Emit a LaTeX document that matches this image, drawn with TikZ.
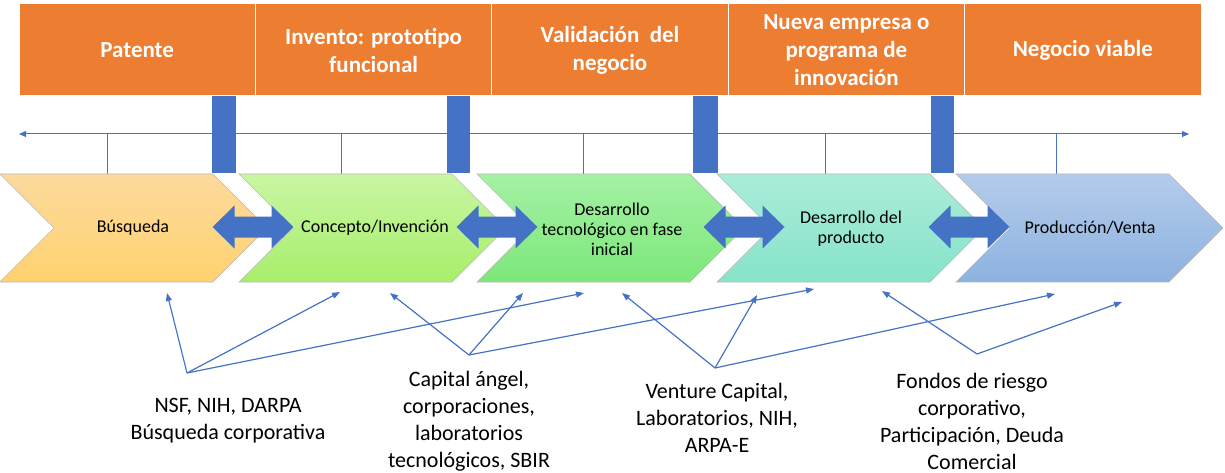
\documentclass[tikz,border=0pt]{standalone}
\usepackage{fontspec}
\setmainfont{Carlito}
\usetikzlibrary{arrows.meta}

\definecolor{HdrOrange}{HTML}{ED7D31}
\definecolor{MileBlue}{HTML}{4472C4}
\definecolor{ChOneTop}{HTML}{FDDA9D}
\definecolor{ChOneBot}{HTML}{FFD26F}
\definecolor{ChTwoTop}{HTML}{C8F6A3}
\definecolor{ChTwoBot}{HTML}{A8EE6B}
\definecolor{ChThreeTop}{HTML}{A4F1A4}
\definecolor{ChThreeBot}{HTML}{7CE77A}
\definecolor{ChFourTop}{HTML}{AAECDA}
\definecolor{ChFourBot}{HTML}{86E3C9}
\definecolor{ChFiveTop}{HTML}{B4CCEB}
\definecolor{ChFiveBot}{HTML}{8DB2DF}

\tikzset{
    header/.style={fill=HdrOrange,draw=white,line width=1pt,minimum width=236.4pt,
        minimum height=92pt,inner sep=0pt,text=white,align=center,
        font=\fontsize{23}{28}\selectfont\bfseries},
    stage/.style={align=center,inner sep=0pt,font=\fontsize{18}{20}\selectfont},
    source/.style={align=center,inner sep=0pt,font=\fontsize{22}{27}\selectfont},
    fund/.style={draw=MileBlue,line width=1.2pt,-{Triangle[length=8pt,width=6pt]}},
}

\begin{document}
\begin{tikzpicture}[x=1pt,y=-1pt]
        \useasboundingbox (0,0) rectangle (1225,473);

        % Header row
        \foreach \Name/\Text [count=\i] in {pat/Patente,
            inv/{Invento: prototipo\\funcional},
            val/{Validación~ del\\negocio},
            emp/{Nueva empresa o\\programa de\\innovación},
            neg/Negocio viable}{
            \node[header] (\Name) at ({19+236.4*(\i-0.5)},50) {\Text};
        }

        % Timeline with ticks
        \draw[MileBlue,line width=1pt,{Triangle[length=7pt,width=6pt]}-{Triangle[length=7pt,width=6pt]}]
            (19,134) -- (1189,134);
        \foreach \x in {107,341,583,825,1056}{
            \draw[MileBlue,line width=0.8pt] (\x,134) -- (\x,174);
        }

        % Milestones
        \foreach \x/\w in {212/24,447/23,693/25,931/23}{
            \fill[MileBlue] (\x,96) rectangle ++(\w,77);
        }

        % Stages
        \foreach \L/\Top/\Bot in {0/ChOneTop/ChOneBot,239/ChTwoTop/ChTwoBot,
            477/ChThreeTop/ChThreeBot,717/ChFourTop/ChFourBot,956/ChFiveTop/ChFiveBot}{
            \shade[top color=\Top,bottom color=\Bot,draw=gray!55,line width=0.6pt]
                (\L,174) -- ++(213,0) -- ++(54,54) -- ++(-54,54) -- ++(-213,0) -- ++(54,-54) -- cycle;
        }

        \node[stage] (busq) at (133,228) {Búsqueda};
        \node[stage] (conc) at (375,228) {Concepto/Invención};
        \node[stage] (tecn) at (612,229) {Desarrollo\\tecnológico en fase\\inicial};
        \node[stage] (prod) at (851,229) {Desarrollo del\\producto};
        \node[stage] (vent) at (1090,228) {Producción/Venta};

        % Double arrows between stages
        \foreach \c in {253,497,744,969}{
            \fill[MileBlue] (\c-40.5,227) -- ++(22,-21.5) -- ++(0,11) -- ++(37,0) -- ++(0,-11)
                -- ++(22,21.5) -- ++(-22,21.5) -- ++(0,-11) -- ++(-37,0) -- ++(0,11) -- cycle;
        }

        % Funding sources
        \node[source] (nsf) at (228,421) {NSF, NIH, DARPA\\Búsqueda corporativa};
        \node[source] (ang) at (469,421) {Capital ángel,\\corporaciones,\\laboratorios\\tecnológicos, SBIR};
        \node[source] (vc)  at (717,418) {Venture Capital,\\Laboratorios, NIH,\\ARPA-E};
        \node[source] (frc) at (972,421) {Fondos de riesgo\\corporativo,\\Participación, Deuda\\Comercial};

        \coordinate (nsf-s) at (187,373);
        \coordinate (ang-s) at (469,355);
        \coordinate (vc-s)  at (715,368);
        \coordinate (frc-s) at (977,354);

        \coordinate (busq-t) at (167,293);
        \coordinate (conc-t) at (340,292);
        \coordinate (tecn-t) at (584,293);
        \coordinate (conc-u) at (390,293);
        \coordinate (tecn-u) at (523,293);
        \coordinate (prod-t) at (814,289);
        \coordinate (tecn-v) at (622,293);
        \coordinate (prod-u) at (757,295);
        \coordinate (vent-t) at (1055,294);
        \coordinate (prod-v) at (882,291);
        \coordinate (vent-u) at (1122,302);

        \draw[fund] (nsf-s) -- (busq-t);
        \draw[fund] (nsf-s) -- (conc-t);
        \draw[fund] (nsf-s) -- (tecn-t);
        \draw[fund] (ang-s) -- (conc-u);
        \draw[fund] (ang-s) -- (tecn-u);
        \draw[fund] (ang-s) -- (prod-t);
        \draw[fund] (vc-s) -- (tecn-v);
        \draw[fund] (vc-s) -- (prod-u);
        \draw[fund] (vc-s) -- (vent-t);
        \draw[fund] (frc-s) -- (prod-v);
        \draw[fund] (frc-s) -- (vent-u);
    \end{tikzpicture}
\end{document}
